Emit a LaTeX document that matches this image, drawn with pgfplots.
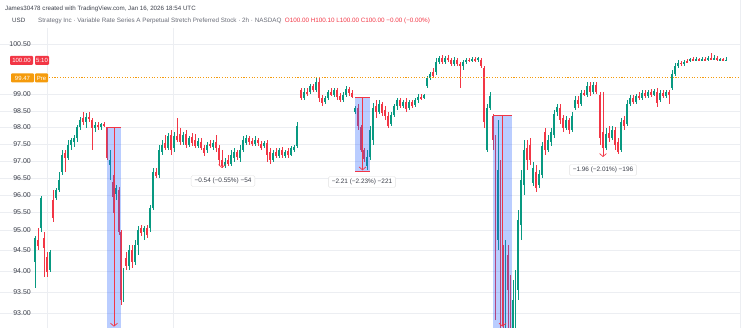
\documentclass[border=0pt]{standalone}
\usepackage{fontspec}
\setmainfont{Liberation Sans}
\usepackage{pgfplots}
\pgfplotsset{compat=1.18}
\usepackage{pgfplotstable}
\usetikzlibrary{arrows.meta}
\definecolor{upc}{HTML}{089981}
\definecolor{dnc}{HTML}{F23645}
\definecolor{boxc}{HTML}{2962FF}
\definecolor{tvorange}{HTML}{F59B0C}
\definecolor{gridc}{HTML}{ECEEF2}
\definecolor{txt}{HTML}{3B3F4A}
\definecolor{ttl}{HTML}{6A6D78}

\pgfplotstableread{
x o h l c
35 93.94 94.72 93.16 94.66
38 94.60 94.96 94.30 94.42
41 94.96 95.92 94.84 95.86
44 94.66 94.84 93.49 94.36
47 94.09 94.24 93.49 93.64
50 93.70 94.30 93.64 94.24
53 95.80 96.10 95.14 95.26
56 95.86 96.16 95.80 96.10
59 96.10 96.64 96.04 96.40
62 96.64 97.30 96.55 97.15
65 97.21 97.30 96.64 97.06
68 97.06 97.60 97.00 97.45
71 97.45 97.66 97.30 97.60
74 97.54 97.75 97.39 97.66
77 97.66 98.05 97.54 97.99
80 97.99 98.29 97.90 98.20
83 98.26 98.44 98.05 98.14
86 98.14 98.41 97.96 98.29
89 98.29 98.44 98.14 98.23
92 98.20 98.26 97.30 97.96
95 97.96 98.14 97.84 98.05
98 98.05 98.14 97.90 97.99
101 97.99 98.11 97.90 98.08
104 98.08 98.14 97.99 98.02
107 97.99 97.99 97.00 97.06
110 96.85 97.30 96.40 97.00
113 96.34 96.55 95.41 95.89
116 95.98 96.25 95.80 96.16
119 96.10 96.19 94.75 94.84
121 94.84 94.90 92.65 92.80
123.5 92.80 93.76 92.74 93.64
126 94.06 94.24 93.70 93.82
129 93.82 94.45 93.70 94.30
132 94.30 94.45 93.76 93.94
135 93.94 94.60 93.85 94.45
138 94.45 95.02 94.15 94.90
141 94.96 95.05 94.72 94.81
144 94.84 95.02 94.60 94.96
147 94.96 95.05 94.66 94.75
150 94.96 95.65 94.84 95.56
153 95.56 96.76 95.50 96.64
156 96.64 96.76 96.46 96.52
159 96.55 97.45 96.46 97.30
162 97.24 97.60 97.15 97.45
165 97.51 97.75 97.30 97.36
168 97.36 97.81 97.30 97.72
171 97.75 97.90 97.15 97.30
174 97.36 97.84 97.24 97.72
177 97.72 98.26 97.54 97.60
180 97.78 97.96 97.45 97.54
183 97.54 97.84 97.45 97.75
186 97.78 97.90 97.36 97.45
189 97.45 97.72 97.39 97.66
192 97.69 97.81 97.42 97.51
195 97.60 97.78 97.36 97.42
198 97.42 97.66 97.36 97.57
201 97.54 97.66 97.30 97.36
204 97.36 97.45 97.12 97.21
207 97.30 97.54 97.21 97.45
210 97.48 97.60 97.36 97.42
213 97.39 97.60 97.30 97.51
216 97.54 97.75 97.24 97.36
219 97.36 97.45 96.85 97.00
222 97.00 97.06 96.76 96.82
225 96.82 97.06 96.76 96.94
228 97.00 97.15 96.82 96.88
231 96.88 97.30 96.82 97.15
234 97.06 97.36 96.94 97.24
237 97.24 97.30 97.00 97.09
240 97.06 97.45 96.94 97.30
243 97.30 97.72 97.24 97.60
246 97.51 97.75 97.45 97.66
249 97.66 97.72 97.45 97.54
252 97.57 97.66 97.42 97.48
255 97.48 97.72 97.42 97.60
258 97.60 97.66 97.42 97.51
261 97.48 97.57 97.30 97.36
264 97.42 97.57 97.36 97.51
267 97.51 97.60 96.94 97.15
270 97.24 97.36 96.88 97.00
273 97.00 97.30 96.94 97.21
276 97.24 97.36 97.06 97.12
279 97.12 97.36 97.06 97.30
282 97.30 97.39 97.06 97.15
285 97.12 97.30 97.06 97.24
288 97.27 97.36 97.06 97.15
291 97.15 97.42 97.12 97.36
294 97.30 97.45 97.24 97.39
297 97.42 98.14 97.36 98.02
301 99.10 99.16 98.80 98.86
304 98.86 99.16 98.80 99.04
307 99.04 99.16 98.92 98.98
310 99.04 99.28 98.98 99.22
313 99.22 99.28 99.04 99.10
316 99.10 99.46 99.04 99.34
319 99.34 99.46 98.74 98.86
322 98.86 98.95 98.62 98.71
325 98.74 98.92 98.68 98.86
328 98.86 99.10 98.80 99.04
331 99.04 99.16 98.92 98.95
334 98.95 99.16 98.89 99.10
337 99.10 99.16 98.80 98.89
340 98.92 99.01 98.74 98.80
343 98.80 99.04 98.74 98.95
346 98.95 99.22 98.89 99.13
349 99.13 99.19 98.92 99.01
352 99.01 99.10 98.86 98.89
355 98.44 98.62 98.38 98.56
358 98.56 98.68 97.90 98.02
361 97.99 98.05 97.24 97.30
364 97.30 97.36 96.94 97.03
367 96.82 97.30 96.70 97.09
370 97.09 98.02 97.00 97.90
373 97.60 98.71 97.45 98.56
376 98.62 98.80 98.26 98.44
379 98.44 98.80 98.38 98.68
382 98.68 98.74 98.32 98.41
385 98.50 98.62 98.20 98.32
388 98.32 98.44 97.96 98.02
391 98.08 98.44 98.02 98.35
394 98.35 98.68 98.29 98.62
397 98.62 98.86 98.50 98.80
400 98.80 98.86 98.56 98.62
403 98.62 98.80 98.56 98.74
406 98.74 98.86 98.44 98.53
409 98.56 98.80 98.50 98.74
412 98.74 98.80 98.56 98.62
415 98.65 98.86 98.59 98.80
418 98.80 98.98 98.71 98.89
421 98.89 98.98 98.80 98.83
424 98.86 98.98 98.83 98.95
427 99.22 99.52 99.16 99.46
430 99.46 99.64 99.40 99.58
433 99.64 99.76 99.46 99.52
436 99.64 100.06 99.55 99.94
439 99.94 100.12 99.88 100.06
442 100.06 100.15 99.88 99.94
445 99.94 100.12 99.88 100.06
448 100.06 100.15 99.94 100.00
451 100.00 100.06 99.82 99.88
454 99.88 100.09 99.82 100.00
457 100.00 100.06 99.82 99.88
460 99.88 99.94 99.16 99.82
463 99.82 100.00 99.70 99.94
466 99.94 100.06 99.88 100.00
469 100.00 100.06 99.94 99.97
472 99.97 100.09 99.94 100.03
475 100.03 100.09 99.94 100.00
478 100.00 100.09 99.94 100.06
481 100.00 100.06 99.76 99.82
484 99.76 99.82 97.96 98.14
487 97.30 98.68 97.24 98.56
490 98.56 99.04 98.50 98.92
493 98.32 98.38 97.30 97.60
495.5 97.60 97.75 92.20 94.90
498 94.60 98.20 94.30 96.70
500.5 96.85 97.00 91.90 94.00
503 94.15 94.45 91.90 92.80
505.5 92.50 94.60 91.90 94.30
508 94.15 94.45 91.90 93.10
510.5 93.25 93.55 91.90 92.20
513 91.90 93.40 91.75 92.80
515.5 92.80 93.70 91.75 93.25
518 93.10 95.50 92.80 95.20
521 95.05 96.70 94.60 96.40
524 96.25 97.60 95.95 97.30
527 97.36 97.60 96.70 97.00
530 97.45 97.66 96.85 97.00
533 96.31 96.94 96.22 96.76
536 96.64 96.85 96.04 96.16
539 96.25 96.70 96.16 96.58
542 96.55 97.54 96.46 97.42
545 97.84 97.96 97.15 97.30
548 97.30 97.75 97.24 97.60
551 97.54 97.96 97.42 97.84
554 97.75 98.50 97.66 98.38
557 98.44 98.68 98.32 98.59
560 98.56 98.68 98.08 98.20
563 98.26 98.35 97.84 97.96
566 97.96 98.32 97.90 98.20
569 98.20 98.26 97.78 97.90
572 97.90 98.44 97.84 98.32
575 98.56 98.92 98.50 98.80
578 98.80 98.92 98.56 98.68
581 98.68 99.10 98.62 99.01
584 99.01 99.10 98.92 98.95
587 98.95 99.34 98.89 99.22
590 99.22 99.34 98.92 99.04
593 99.04 99.34 98.98 99.25
596 99.25 99.34 98.98 99.04
600 98.95 99.04 97.45 97.66
603 97.84 97.96 97.24 97.36
606 97.36 97.96 97.30 97.78
609 97.81 98.02 97.54 97.66
612 97.66 98.02 97.60 97.90
615 97.90 97.99 97.30 97.45
618 97.54 97.66 97.18 97.24
621 97.30 98.26 97.24 98.14
624 98.20 98.32 97.90 98.02
627 98.08 98.80 98.02 98.68
630 98.68 98.95 98.62 98.86
633 98.86 98.95 98.68 98.74
636 98.74 98.98 98.68 98.92
639 98.92 99.04 98.80 98.86
642 98.86 99.10 98.80 99.01
645 99.01 99.10 98.86 98.92
648 98.92 99.10 98.86 99.04
651 99.04 99.13 98.89 98.95
654 98.95 99.13 98.92 99.07
657 99.04 99.16 98.59 98.71
660 98.80 99.10 98.74 99.01
663 99.01 99.10 98.86 98.92
666 98.92 99.10 98.86 99.04
669 99.04 99.10 98.68 98.95
672 99.16 99.70 99.10 99.58
675 99.58 99.91 99.52 99.82
678 99.82 100.00 99.76 99.91
681 99.91 99.97 99.82 99.88
684 99.88 100.00 99.82 99.94
687 99.97 100.03 99.91 99.94
690 99.97 100.06 99.94 100.03
693 100.03 100.09 99.97 100.00
696 100.00 100.09 99.97 100.03
699 100.03 100.06 99.97 100.00
702 100.00 100.09 99.97 100.03
705 100.03 100.09 99.97 100.00
708 100.00 100.12 99.97 100.06
711 100.06 100.21 100.00 100.03
714 100.03 100.15 100.00 100.06
717 100.06 100.12 99.97 100.00
720 100.00 100.06 99.97 100.03
723 100.03 100.06 99.97 100.00
726 100.00 100.10 100.00 100.00
}\candles

\begin{document}
\begin{tikzpicture}[x=1pt,y=1pt]
\path[use as bounding box] (0,0) rectangle (745,328);
\begin{axis}[
  at={(0,0)}, anchor=south west, scale only axis,
  width=740pt, height=300pt,
  xmin=0, xmax=740, ymin=91.96, ymax=100.96,
  axis line style={draw=none},
  major tick length=0pt,
  xtick={47,173}, xticklabels={,},
  xmajorgrids, ymajorgrids,
  grid style={gridc, line width=0.6pt},
  ytick={100.48,98.965,98.47,97.975,97.48,96.97,96.46,95.95,95.44,94.90,94.30,93.67,93.04,92.41},
  yticklabels={100.50,99.00,98.50,98.00,97.50,97.00,96.50,96.00,95.50,95.00,94.50,94.00,93.50,93.00},
  yticklabel style={anchor=east, xshift=31pt, inner sep=0pt, font=\fontsize{7}{8}\selectfont, text=txt},
  /pgf/number format/assume math mode=true,
  cycle list={{draw=none}},
]
% wicks
\addplot[draw=none, mark=none, forget plot,
  restrict expr to domain={\thisrow{c}-\thisrow{o}}{0:100},
  error bars/.cd, y dir=both, y explicit, error mark=none,
  error bar style={draw=upc, line width=0.55pt}]
  table[x=x, y expr={(\thisrow{h}+\thisrow{l})/2}, y error expr={(\thisrow{h}-\thisrow{l})/2}] {\candles};
\addplot[draw=none, mark=none, forget plot,
  restrict expr to domain={\thisrow{c}-\thisrow{o}}{-100:-0.0001},
  error bars/.cd, y dir=both, y explicit, error mark=none,
  error bar style={draw=dnc, line width=0.55pt}]
  table[x=x, y expr={(\thisrow{h}+\thisrow{l})/2}, y error expr={(\thisrow{h}-\thisrow{l})/2}] {\candles};
% bodies
\addplot[draw=none, mark=none, forget plot,
  restrict expr to domain={\thisrow{c}-\thisrow{o}}{0:100},
  error bars/.cd, y dir=both, y explicit, error mark=none,
  error bar style={draw=upc, line width=1.9pt}]
  table[x=x, y expr={(\thisrow{o}+\thisrow{c})/2}, y error expr={max(abs(\thisrow{c}-\thisrow{o})/2,0.012)}] {\candles};
\addplot[draw=none, mark=none, forget plot,
  restrict expr to domain={\thisrow{c}-\thisrow{o}}{-100:-0.0001},
  error bars/.cd, y dir=both, y explicit, error mark=none,
  error bar style={draw=dnc, line width=1.9pt}]
  table[x=x, y expr={(\thisrow{o}+\thisrow{c})/2}, y error expr={max(abs(\thisrow{c}-\thisrow{o})/2,0.012)}] {\candles};

% pre-market price line
\addplot[tvorange, line width=1pt, dash pattern=on 1.1pt off 1.6pt, forget plot] coordinates {(49,99.47) (740,99.47)};

% measure boxes
\addplot[draw=none, fill=boxc, fill opacity=0.32, forget plot] coordinates {(107,97.99) (121,97.99) (121,91.8) (107,91.8)} -- cycle;
\addplot[draw=none, fill=boxc, fill opacity=0.32, forget plot] coordinates {(355,98.89) (370,98.89) (370,96.67) (355,96.67)} -- cycle;
\addplot[draw=none, fill=boxc, fill opacity=0.32, forget plot] coordinates {(493,98.35) (512,98.35) (512,91.8) (493,91.8)} -- cycle;
\addplot[dnc, line width=0.7pt, forget plot] coordinates {(107,97.99) (121,97.99)};
\addplot[dnc, line width=0.7pt, forget plot] coordinates {(355,98.89) (370,98.89)};
\addplot[dnc, line width=0.7pt, forget plot] coordinates {(355,96.67) (370,96.67)};
\addplot[dnc, line width=0.7pt, forget plot] coordinates {(493,98.35) (512,98.35)};
\addplot[dnc, line width=0.7pt, forget plot, -{Straight Barb[length=3pt,width=7pt]}] coordinates {(114,97.99) (114,92.0)};
\addplot[dnc, line width=0.7pt, forget plot, -{Straight Barb[length=3pt,width=7pt]}] coordinates {(362.5,98.89) (362.5,96.69)};
\addplot[dnc, line width=0.7pt, forget plot, -{Straight Barb[length=3pt,width=7pt]}] coordinates {(502.5,98.35) (502.5,92.0)};
\addplot[dnc, line width=0.7pt, forget plot, -{Straight Barb[length=3pt,width=7pt]}] coordinates {(222,97.30) (222,96.76)};
\addplot[dnc, line width=0.7pt, forget plot, -{Straight Barb[length=3pt,width=7pt]}] coordinates {(603,99.04) (603,97.09)};

% measure labels
\tikzset{mlab/.style={fill=white, draw=black!12, rounded corners=1.5pt, inner xsep=3.5pt, inner ysep=2.5pt, font=\fontsize{6.4}{7}\selectfont, text=txt}}
\node[mlab] at (axis cs:223,96.37) {−0.54 (−0.55\%) −54};
\node[mlab] at (axis cs:362,96.34) {−2.21 (−2.23\%) −221};
\node[mlab] at (axis cs:603,96.70) {−1.96 (−2.01\%) −196};

% price tags
\tikzset{tag/.style={text=white, font=\fontsize{6}{6}\selectfont, minimum height=9pt, inner sep=0pt, rounded corners=1pt}}
\node[tag, fill=dnc, minimum width=23pt] at (axis cs:21.5,99.985) {100.00};
\node[tag, fill=dnc, minimum width=14pt] at (axis cs:42,99.985) {5:10};
\node[tag, fill=tvorange, minimum width=23pt] at (axis cs:22.5,99.46) {99.47};
\node[tag, fill=tvorange, minimum width=13pt] at (axis cs:41.5,99.46) {Pre};
\end{axis}
\draw[gridc, line width=0.8pt] (740,0) -- (740,328);
\node[anchor=base west, inner sep=0pt, font=\fontsize{6.2}{7}\selectfont, text=txt] at (5,317) {James30478 created with TradingView.com, Jan 16, 2026 18:54 UTC};
\node[anchor=base west, inner sep=0pt, font=\fontsize{6.2}{7}\selectfont, text=txt] at (12,305) {USD};
\node[anchor=base west, inner sep=0pt, font=\fontsize{6.3}{7}\selectfont, text=ttl] at (38,305) {Strategy Inc · Variable Rate Series A Perpetual Stretch Preferred Stock · 2h · NASDAQ\ \ \textcolor{dnc}{O100.00 H100.10 L100.00 C100.00 −0.00 (−0.00\%)}};
\end{tikzpicture}
\end{document}
